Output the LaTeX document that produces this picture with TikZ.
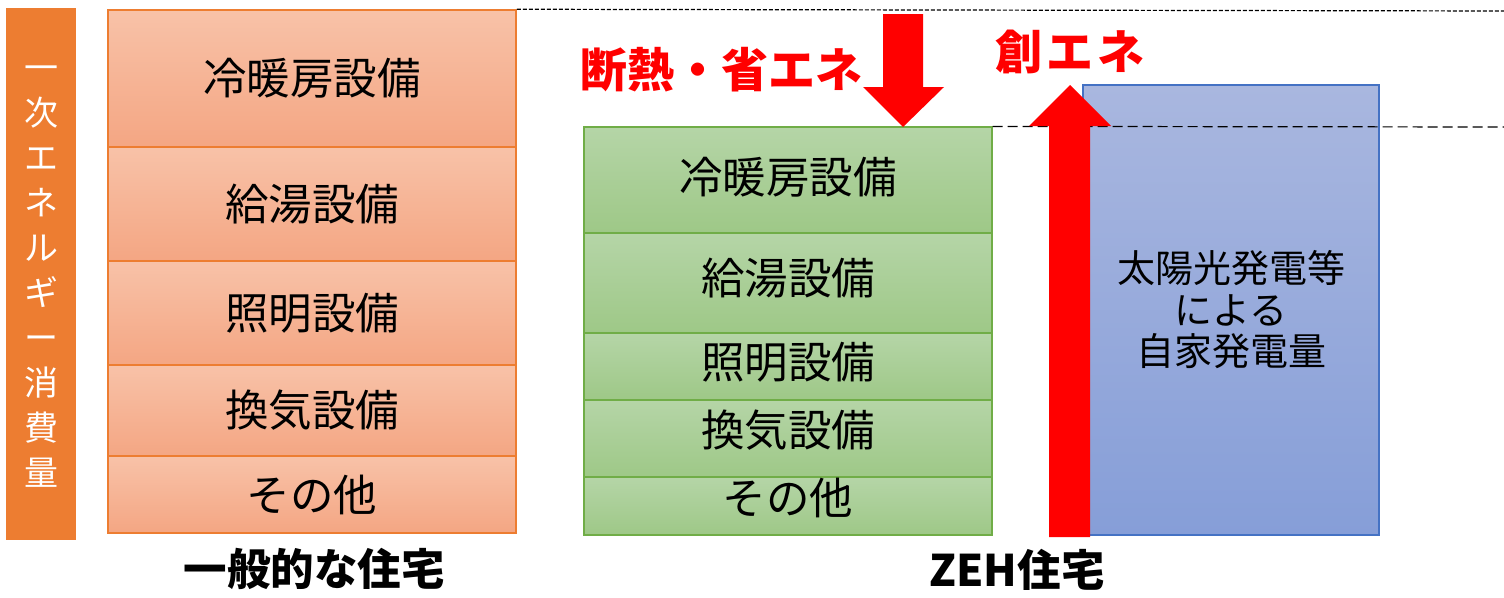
\documentclass[tikz,border=0pt]{standalone}
\usepackage{fontspec}
\setmainfont{Noto Sans CJK JP}
\usepackage{tikz}
\definecolor{energyorange}{HTML}{ED7D31}
\definecolor{ordtop}{HTML}{F8C2A8}
\definecolor{ordbottom}{HTML}{F4A683}
\definecolor{zehline}{HTML}{70AD47}
\definecolor{zehtop}{HTML}{B5D5A7}
\definecolor{zehbottom}{HTML}{9EC887}
\definecolor{solarline}{HTML}{4472C4}
\definecolor{solartop}{HTML}{A9B7DF}
\definecolor{solarbottom}{HTML}{869ED8}
\definecolor{arrowred}{HTML}{FF0000}

\tikzset{
    ordbox/.style={draw=energyorange, line width=1.5pt, top color=ordtop, bottom color=ordbottom,
        minimum width=408pt, inner sep=0pt, font=\fontsize{43.5}{50}\selectfont},
    zehbox/.style={draw=zehline, line width=1.2pt, top color=zehtop, bottom color=zehbottom,
        minimum width=408pt, inner sep=0pt, font=\fontsize{43.5}{50}\selectfont},
    redlabel/.style={text=arrowred, font=\fontsize{47}{50}\selectfont\bfseries, inner sep=0pt},
    houselabel/.style={font=\fontsize{43.5}{48}\selectfont\bfseries, inner sep=0pt},
    levelline/.style={line width=1.2pt, dash pattern=on 4pt off 2pt}
}

\begin{document}
\begin{tikzpicture}[x=1pt, y=-1pt]
    \useasboundingbox (0,0) rectangle (1504,597);

    % primary energy bar
    \node[fill=energyorange, minimum width=70pt, minimum height=532pt, inner sep=0pt] (bar) at (41,274) {};
    \node[text=white, align=center, inner sep=0pt, font=\fontsize{34}{45}\selectfont] (barlabel) at (41,277)
        {一\\次\\エ\\ネ\\ル\\ギ\\ー\\消\\費\\量};

    % ordinary house
    \node[ordbox, minimum height=137pt] (o1) at (312,78.5) {冷暖房設備};
    \node[ordbox, minimum height=114pt] (o2) at (312,204) {給湯設備};
    \node[ordbox, minimum height=104pt] (o3) at (312,313) {照明設備};
    \node[ordbox, minimum height=91pt] (o4) at (312,410.5) {換気設備};
    \node[ordbox, minimum height=77pt] (o5) at (312,494.5) {その他};
    \node[houselabel] (ordname) at (314,569) {一般的な住宅};

    % ZEH house
    \node[zehbox, minimum height=106pt, text depth=9pt] (z1) at (788,180) {冷暖房設備};
    \node[zehbox, minimum height=100pt, text depth=13pt] (z2) at (788,283) {給湯設備};
    \node[zehbox, minimum height=67pt, text depth=12pt] (z3) at (788,366.5) {照明設備};
    \node[zehbox, minimum height=77pt, text depth=20pt] (z4) at (788,438.5) {換気設備};
    \node[zehbox, minimum height=58pt, text depth=20pt] (z5) at (788,506) {その他};
    \node[houselabel] (zehname) at (1017,570) {ZEH住宅};

    % own generation
    \node[draw=solarline, line width=1.2pt, top color=solartop, bottom color=solarbottom,
        minimum width=296pt, minimum height=450pt, inner sep=0pt, align=center,
        font=\fontsize{38}{41.5}\selectfont] (solar) at (1231,310)
        {太陽光発電等\\による\\自家発電量};

    % levels
    \draw[levelline] (o1.north east) -- (1504,11);
    \draw[levelline, dash pattern=on 10pt off 5pt] (z1.north east) -- (1504,127);

    % saving and creating
    \fill[arrowred] (883,14) -- (923,14) -- (923,87) -- (944,87) -- (903,127)
        -- (863,87) -- (883,87) -- cycle;
    \fill[arrowred] (1049,537) -- (1090,537) -- (1090,126) -- (1111,126) -- (1070,85)
        -- (1029,126) -- (1049,126) -- cycle;
    \node[redlabel] (saving) at (721,70) {断熱・省エネ};
    \node[redlabel] (creating) at (1070,52) {創\hspace{4pt}エ\hspace{4pt}ネ};
\end{tikzpicture}
\end{document}
